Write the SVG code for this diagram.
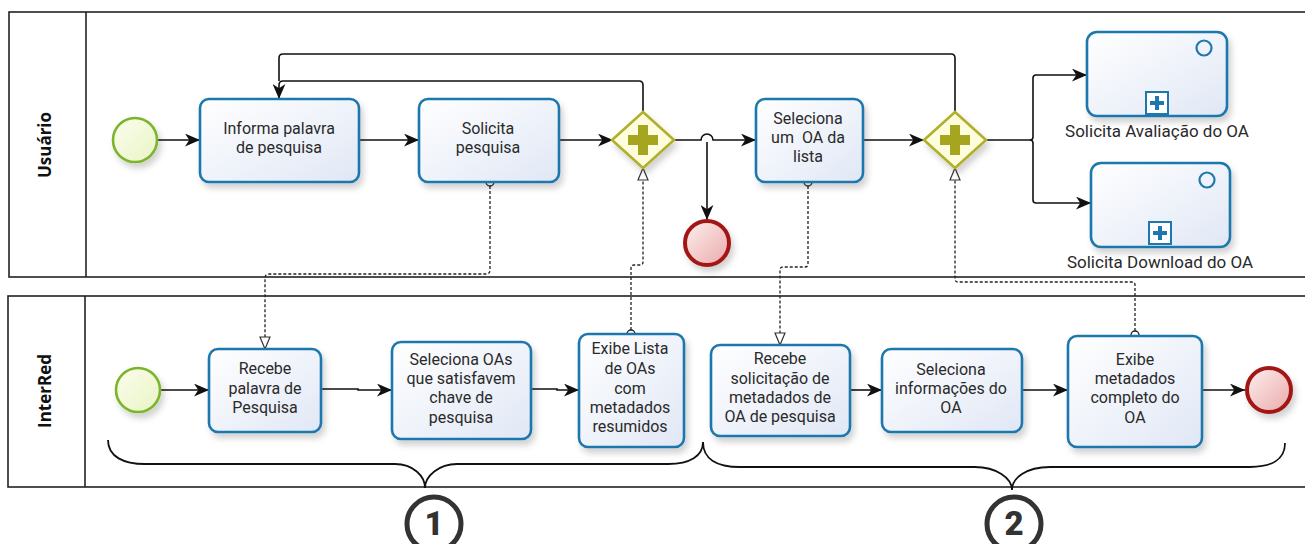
<svg xmlns="http://www.w3.org/2000/svg" width="1305" height="544" viewBox="0 0 1305 544">
  <style>
    .pool { fill: #fff; stroke: #222; stroke-width: 1.6; }
    .lane-label { font-family: "Open Sans", "Noto Sans", sans-serif; font-weight: bold; font-size: 17px; fill: #111; text-anchor: middle; }
    .task { fill: url(#taskFill); stroke: #1f78ac; stroke-width: 2.6; filter: url(#shadow); }
    .label { font-family: Roboto, "Liberation Sans", sans-serif; font-size: 16px; fill: #2a2a2a; text-anchor: middle; }
    .sub-label { font-family: Roboto, "Liberation Sans", sans-serif; font-size: 17px; fill: #2a2a2a; text-anchor: middle; }
    .start { fill: url(#startFill); stroke: #7bb52c; stroke-width: 2.6; filter: url(#shadow); }
    .end { fill: url(#endFill); stroke: #a31515; stroke-width: 4; filter: url(#shadow); }
    .gateway { fill: #fdfcdc; stroke: #b0b02a; stroke-width: 2.6; filter: url(#shadow); }
    .plus { fill: #a5a51f; }
    .flow { fill: none; stroke: #111; stroke-width: 1.6; marker-end: url(#arrow); }
    .line { fill: none; stroke: #111; stroke-width: 1.6; }
    .msg { fill: none; stroke: #222; stroke-width: 1.3; stroke-dasharray: 3 2; marker-end: url(#hollow); }
    .msg-src { fill: #fff; stroke: #222; stroke-width: 1.3; }
    .brace { fill: none; stroke: #111; stroke-width: 1.8; }
    .num-ring { fill: #fff; stroke: #333; stroke-width: 5; }
    .num { font-family: Roboto, "Liberation Sans", sans-serif; font-weight: 900; font-size: 33px; fill: #333; text-anchor: middle; }
    .marker-box { fill: #fff; stroke: #1f78ac; stroke-width: 2; }
    .marker-plus { fill: #1f78ac; }
    .event-ring { fill: none; stroke: #1f78ac; stroke-width: 2.2; }
  </style>
  <defs>
    <linearGradient id="taskFill" x1="0" y1="0" x2="1" y2="1">
      <stop offset="0" stop-color="#ffffff"/>
      <stop offset="1" stop-color="#e0e7f5"/>
    </linearGradient>
    <linearGradient id="startFill" x1="0" y1="0" x2="1" y2="1">
      <stop offset="0" stop-color="#fbfdee"/>
      <stop offset="1" stop-color="#e9f4c4"/>
    </linearGradient>
    <linearGradient id="endFill" x1="0" y1="0" x2="1" y2="1">
      <stop offset="0" stop-color="#fdf0f0"/>
      <stop offset="1" stop-color="#eaa9a9"/>
    </linearGradient>
    <filter id="shadow" x="-20%" y="-20%" width="150%" height="160%">
      <feDropShadow dx="3" dy="5" stdDeviation="3" flood-color="#000" flood-opacity="0.18"/>
    </filter>
    <marker id="arrow" viewBox="0 0 14 12" refX="14" refY="6" markerWidth="15" markerHeight="13" orient="auto" markerUnits="userSpaceOnUse">
      <path d="M0,0 L14,6 L0,12 L4,6 z" fill="#111"/>
    </marker>
    <marker id="hollow" viewBox="0 0 14 12" refX="13" refY="6" markerWidth="14" markerHeight="12" orient="auto" markerUnits="userSpaceOnUse">
      <path d="M1,1 L13,6 L1,11 z" fill="#fff" stroke="#333" stroke-width="1.2"/>
    </marker>
  </defs>

  <!-- Pools -->
  <g id="pool-usuario">
    <rect class="pool" x="9" y="12" width="1310" height="265"/>
    <line x1="86" y1="12" x2="86" y2="277" stroke="#222" stroke-width="1.6"/>
    <text class="lane-label" transform="translate(51,145) rotate(-90)">Usuário</text>
  </g>
  <g id="pool-interred">
    <rect class="pool" x="8" y="296" width="1310" height="191"/>
    <line x1="85" y1="296" x2="85" y2="487" stroke="#222" stroke-width="1.6"/>
    <text class="lane-label" transform="translate(51,391) rotate(-90)">InterRed</text>
  </g>

  <!-- Connectors -->
  <g id="connectors">
    <!-- sequence flows, Usuário -->
    <path class="flow" d="M157,140 H200"/>
    <path class="flow" d="M359,140 H419"/>
    <path class="flow" d="M559,140 H613"/>
    <path class="flow" d="M674,140 H701 A6,6 0 0 1 713,140 H756"/>
    <path class="flow" d="M707,142 V220"/>
    <path class="flow" d="M863,140 H924"/>
    <path class="flow" d="M986,140 H1030 Q1033,140 1033,137 V78 Q1033,75 1036,75 H1087"/>
    <path class="flow" d="M1030,140 Q1033,140 1033,143 V200 Q1033,203 1036,203 H1091"/>
    <path class="line" d="M955,112 V58 Q955,54 951,54 H283 Q279,54 279,58 V81"/>
    <path class="flow" d="M643,112 V85 Q643,81 639,81 H283 Q279,81 279,85 V99"/>

    <!-- sequence flows, InterRed -->
    <path class="flow" d="M160,390 H209"/>
    <path class="flow" d="M321,389 H358 V390 H392"/>
    <path class="flow" d="M531,389 H557 V390 H579"/>
    <path class="flow" d="M850,390 H882"/>
    <path class="flow" d="M1022,390 H1068"/>
    <path class="flow" d="M1202,390 H1245"/>

    <!-- message flows -->
    <path class="msg" d="M490,186 V270 Q490,274 486,274 H269 Q265,274 265,278 V349"/>
    <circle class="msg-src" cx="490" cy="182" r="4"/>
    <path class="msg" d="M631,330 V268 Q631,265 634,265 H640 Q643,265 643,262 V168"/>
    <circle class="msg-src" cx="631" cy="334" r="4"/>
    <path class="msg" d="M808,186 V264 Q808,267 805,267 H783 Q780,267 780,270 V345"/>
    <circle class="msg-src" cx="808" cy="182" r="4"/>
    <path class="msg" d="M1135,331 V285 Q1135,282 1132,282 H958 Q955,282 955,279 V168"/>
    <circle class="msg-src" cx="1135" cy="335" r="4"/>
  </g>

  <!-- Usuário nodes -->
  <g id="start-usuario">
    <circle class="start" cx="135" cy="140" r="22"/>
  </g>
  <g id="task-informa">
    <rect class="task" x="200" y="99" width="159" height="83" rx="9"/>
    <text class="label" x="279" y="134">Informa palavra</text>
    <text class="label" x="279" y="153">de pesquisa</text>
  </g>
  <g id="task-solicita">
    <rect class="task" x="419" y="99" width="140" height="83" rx="9"/>
    <text class="label" x="488" y="134">Solicita</text>
    <text class="label" x="488" y="153">pesquisa</text>
  </g>
  <g id="gateway-1">
    <path class="gateway" d="M643,112 L674,140 L643,168 L612,140 z"/>
    <path class="plus" d="M638,125 h10 v10 h10 v10 h-10 v10 h-10 v-10 h-10 v-10 h10 z"/>
  </g>
  <g id="end-usuario">
    <circle class="end" cx="707" cy="243" r="22"/>
  </g>
  <g id="task-seleciona-oa">
    <rect class="task" x="756" y="99" width="107" height="83" rx="9"/>
    <text class="label" x="808" y="124">Seleciona</text>
    <text class="label" x="808" y="143" xml:space="preserve">um  OA da</text>
    <text class="label" x="808" y="162">lista</text>
  </g>
  <g id="gateway-2">
    <path class="gateway" d="M955,112 L986,140 L955,168 L924,140 z"/>
    <path class="plus" d="M950,125 h10 v10 h10 v10 h-10 v10 h-10 v-10 h-10 v-10 h10 z"/>
  </g>
  <g id="sub-avaliacao">
    <rect class="task" x="1087" y="32" width="140" height="84" rx="10"/>
    <circle class="event-ring" cx="1204" cy="48" r="7.5"/>
    <rect class="marker-box" x="1146" y="92" width="22" height="22"/>
    <path class="marker-plus" d="M1155,96 h4 v5 h5 v4 h-5 v5 h-4 v-5 h-5 v-4 h5 z"/>
    <text class="sub-label" x="1157" y="137">Solicita Avaliação do OA</text>
  </g>
  <g id="sub-download">
    <rect class="task" x="1091" y="163" width="139" height="84" rx="10"/>
    <circle class="event-ring" cx="1207" cy="180" r="7.5"/>
    <rect class="marker-box" x="1149" y="222" width="22" height="22"/>
    <path class="marker-plus" d="M1158,226 h4 v5 h5 v4 h-5 v5 h-4 v-5 h-5 v-4 h5 z"/>
    <text class="sub-label" x="1160" y="268">Solicita Download do OA</text>
  </g>

  <!-- InterRed nodes -->
  <g id="start-interred">
    <circle class="start" cx="138" cy="390" r="22"/>
  </g>
  <g id="task-recebe-palavra">
    <rect class="task" x="209" y="349" width="112" height="83" rx="9"/>
    <text class="label" x="265" y="374">Recebe</text>
    <text class="label" x="265" y="394">palavra de</text>
    <text class="label" x="265" y="413">Pesquisa</text>
  </g>
  <g id="task-seleciona-oas">
    <rect class="task" x="392" y="342" width="139" height="97" rx="9"/>
    <text class="label" x="461" y="365">Seleciona OAs</text>
    <text class="label" x="461" y="384">que satisfavem</text>
    <text class="label" x="461" y="403">chave de</text>
    <text class="label" x="461" y="423">pesquisa</text>
  </g>
  <g id="task-exibe-lista">
    <rect class="task" x="579" y="334" width="105" height="113" rx="9"/>
    <text class="label" x="630" y="354">Exibe Lista</text>
    <text class="label" x="630" y="374">de OAs</text>
    <text class="label" x="630" y="394">com</text>
    <text class="label" x="630" y="413">metadados</text>
    <text class="label" x="630" y="432">resumidos</text>
  </g>
  <g id="task-recebe-solicitacao">
    <rect class="task" x="711" y="345" width="139" height="91" rx="9"/>
    <text class="label" x="780" y="364">Recebe</text>
    <text class="label" x="780" y="384">solicitação de</text>
    <text class="label" x="780" y="403">metadados de</text>
    <text class="label" x="780" y="422">OA de pesquisa</text>
  </g>
  <g id="task-seleciona-info">
    <rect class="task" x="882" y="349" width="140" height="83" rx="9"/>
    <text class="label" x="951" y="375">Seleciona</text>
    <text class="label" x="951" y="394">informações do</text>
    <text class="label" x="951" y="413">OA</text>
  </g>
  <g id="task-exibe-metadados">
    <rect class="task" x="1068" y="336" width="134" height="111" rx="9"/>
    <text class="label" x="1135" y="365">Exibe</text>
    <text class="label" x="1135" y="384">metadados</text>
    <text class="label" x="1135" y="403">completo do</text>
    <text class="label" x="1135" y="423">OA</text>
  </g>
  <g id="end-interred">
    <circle class="end" cx="1269" cy="390" r="22"/>
  </g>

  <!-- Phase braces and numbers -->
  <g id="phase-1">
    <path class="brace" d="M108,440 C108,457 124,464 145,464 H395 C413,464 425,476 425,488 C425,476 439,464 457,464 H668 C690,464 703,456 703,442"/>
    <circle class="num-ring" cx="434" cy="524" r="27"/>
    <text class="num" x="434" y="535">1</text>
  </g>
  <g id="phase-2">
    <path class="brace" d="M703,442 C703,459 717,467 740,467 H975 C996,467 1012,478 1012,490 C1012,478 1026,467 1050,467 H1250 C1272,467 1285,459 1285,443"/>
    <circle class="num-ring" cx="1014" cy="524" r="27"/>
    <text class="num" x="1014" y="535">2</text>
  </g>
</svg>
